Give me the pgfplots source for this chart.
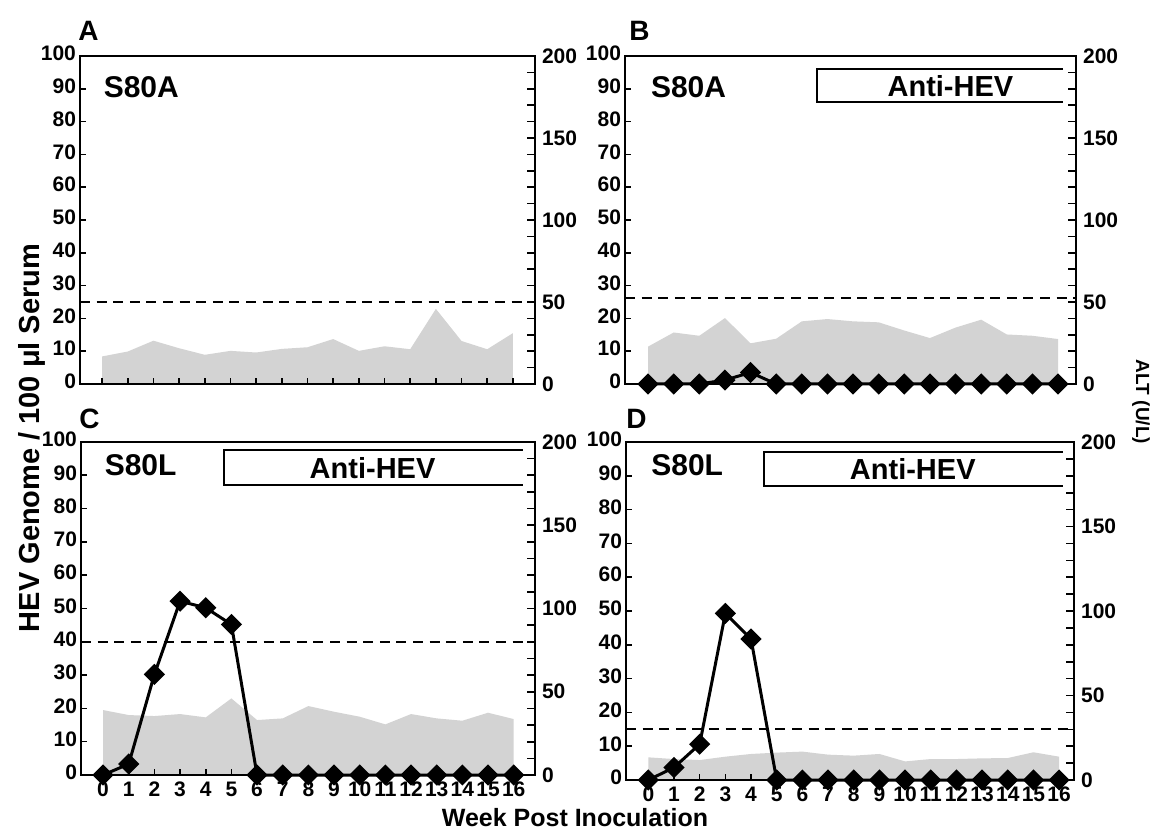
\documentclass[border=0pt]{standalone}
\usepackage{fontspec}
\setmainfont{Liberation Sans}
\usepackage{pgfplots}
\pgfplotsset{compat=1.18}
\definecolor{altgray}{RGB}{211,211,211}

\pgfplotsset{
  altaxis/.style={
    scale only axis, anchor=south west,
    ymin=0, ymax=200, hide x axis, axis y line*=right,
    ytick={0,50,100,150,200}, minor ytick={10,20,...,190},
    tick align=inside, major tick length=4pt, minor tick length=4pt,
    every tick/.style={black, line width=0.8pt},
    axis line style={line width=1pt},
    yticklabel style={font=\bfseries\fontsize{10.5}{12}\selectfont, xshift=0pt},
    /pgf/number format/assume math mode=true,
  },
  hevaxis/.style={
    scale only axis, anchor=south west,
    ymin=0, ymax=100, ytick={0,10,...,100}, xtick={0,...,16},
    ytick pos=left, xtick pos=bottom, tick align=inside,
    major tick length=3pt,
    every tick/.style={black, line width=0.8pt},
    axis line style={line width=1pt},
    tick label style={font=\bfseries\fontsize{10.5}{12}\selectfont},
    typeset ticklabels with strut,
    yticklabel style={xshift=1.5pt},
    xticklabel style={yshift=1pt},
    /pgf/number format/assume math mode=true,
    clip=false,
  },
}
\tikzset{
  hevline/.style={black, line width=1.5pt, mark=square*, mark size=3pt, mark options={rotate=45, solid}},
  cutoff/.style={black, line width=1pt, dash pattern=on 5pt off 3.3pt},
  altarea/.style={fill=altgray, draw=none},
  letter/.style={anchor=base west, inner sep=0pt, font=\bfseries\fontsize{14}{16}\selectfont},
  strain/.style={anchor=west, inner sep=0pt, font=\bfseries\fontsize{15}{17}\selectfont},
  anti/.style={inner sep=0pt, font=\bfseries\fontsize{14.5}{16}\selectfont},
}

\begin{document}
\begin{tikzpicture}
\useasboundingbox (0,0) rectangle (578pt,417.5pt);

% ---------------- Panel A ----------------
\begin{axis}[altaxis, at={(40pt,225.5pt)}, width=227.5pt, height=164pt, xmin=-0.86, xmax=16.86]
\addplot[altarea] coordinates {(0,16.8) (1,19.8) (2,26.4) (3,21.8) (4,17.8) (5,20.2) (6,19.2) (7,21.4) (8,22.4) (9,27.4) (10,20.2) (11,23.0) (12,21.2) (13,45.8) (14,26.2) (15,21.2) (16,31.0)} \closedcycle;
\addplot[cutoff] coordinates {(-0.86,50) (16.86,50)};
\end{axis}
\begin{axis}[hevaxis, at={(40pt,225.5pt)}, width=227.5pt, height=164pt, xmin=-0.86, xmax=16.86, xticklabels={}]
\node[letter, xshift=-1pt, yshift=7.5pt] at (rel axis cs:0,1) {A};
\node[strain] at (axis cs:0.05,90.5) {S80A};
\end{axis}

% ---------------- Panel B ----------------
\begin{axis}[altaxis, at={(312.5pt,225.5pt)}, width=225.5pt, height=164pt, xmin=-0.9, xmax=16.7]
\addplot[altarea] coordinates {(0,22.8) (1,31.4) (2,29.4) (3,40.2) (4,24.8) (5,27.6) (6,38.2) (7,39.6) (8,38.2) (9,37.6) (10,32.6) (11,28.0) (12,34.4) (13,39.2) (14,30.2) (15,29.4) (16,27.4)} \closedcycle;
\addplot[cutoff] coordinates {(-0.9,52.4) (16.7,52.4)};
\end{axis}
\begin{axis}[hevaxis, at={(312.5pt,225.5pt)}, width=225.5pt, height=164pt, xmin=-0.9, xmax=16.7, xticklabels={}]
\addplot[hevline] coordinates {(0,0) (1,0) (2,0) (3,1.2) (4,3.5) (5,0) (6,0) (7,0) (8,0) (9,0) (10,0) (11,0) (12,0) (13,0) (14,0) (15,0) (16,0)};
\node[letter, xshift=2pt, yshift=7.5pt] at (rel axis cs:0,1) {B};
\node[strain] at (axis cs:0.1,90.5) {S80A};
\draw[black, line width=1pt] (axis cs:16.2,96) -- (axis cs:6.6,96) -- (axis cs:6.6,86) -- (axis cs:16.2,86);
\node[anti] at (axis cs:11.8,90.7) {Anti-HEV};
\end{axis}

% ---------------- Panel C ----------------
\begin{axis}[altaxis, at={(40.5pt,30pt)}, width=227pt, height=166.5pt, xmin=-0.86, xmax=16.83]
\addplot[altarea] coordinates {(0,39) (1,36) (2,35.4) (3,36.6) (4,34.6) (5,46) (6,33) (7,34) (8,41.4) (9,38) (10,35) (11,30.4) (12,36.6) (13,34) (14,32.6) (15,37.4) (16,33.6)} \closedcycle;
\addplot[cutoff] coordinates {(-0.86,80) (16.83,80)};
\end{axis}
\begin{axis}[hevaxis, at={(40.5pt,30pt)}, width=227pt, height=166.5pt, xmin=-0.86, xmax=16.83]
\addplot[hevline] coordinates {(0,0) (1,3.3) (2,30.2) (3,52.2) (4,50.2) (5,45.2) (6,0) (7,0) (8,0) (9,0) (10,0) (11,0) (12,0) (13,0) (14,0) (15,0) (16,0)};
\node[letter, xshift=-1pt, yshift=6.5pt] at (rel axis cs:0,1) {C};
\node[strain] at (axis cs:0.05,93) {S80L};
\draw[black, line width=1pt] (axis cs:16.35,97.5) -- (axis cs:4.7,97.5) -- (axis cs:4.7,87) -- (axis cs:16.35,87);
\node[anti] at (axis cs:10.5,92.2) {Anti-HEV};
\end{axis}

% ---------------- Panel D ----------------
\begin{axis}[altaxis, at={(313pt,27.5pt)}, width=224pt, height=169pt, xmin=-0.87, xmax=16.58]
\addplot[altarea] coordinates {(0,13.4) (1,12.4) (2,11.8) (3,13.8) (4,15.4) (5,16.2) (6,16.8) (7,15) (8,14.4) (9,15.4) (10,11) (11,12.4) (12,12.4) (13,12.8) (14,13) (15,16.4) (16,13.8)} \closedcycle;
\addplot[cutoff] coordinates {(-0.87,30) (16.58,30)};
\end{axis}
\begin{axis}[hevaxis, at={(313pt,27.5pt)}, width=224pt, height=169pt, xmin=-0.87, xmax=16.58]
\addplot[hevline] coordinates {(0,0) (1,3.7) (2,10.6) (3,49.3) (4,41.7) (5,0) (6,0) (7,0) (8,0) (9,0) (10,0) (11,0) (12,0) (13,0) (14,0) (15,0) (16,0)};
\node[letter, xshift=0pt, yshift=6.5pt] at (rel axis cs:0,1) {D};
\node[strain] at (axis cs:0.1,93) {S80L};
\draw[black, line width=1pt] (axis cs:16.15,97) -- (axis cs:4.5,97) -- (axis cs:4.5,87) -- (axis cs:16.15,87);
\node[anti] at (axis cs:10.3,92) {Anti-HEV};
\end{axis}

% ---------------- shared labels ----------------
\node[rotate=90, inner sep=0pt, font=\bfseries\fontsize{14.5}{16}\selectfont] at (15.9pt,198.5pt) {HEV Genome / 100 μl Serum};
\node[inner sep=0pt, font=\bfseries\fontsize{12.5}{15}\selectfont] at (287.5pt,8.5pt) {Week Post Inoculation};
\node[rotate=-90, inner sep=0pt, font=\bfseries\fontsize{9.5}{11}\selectfont] at (570.5pt,216.5pt) {ALT (U/L)};
\end{tikzpicture}
\end{document}
